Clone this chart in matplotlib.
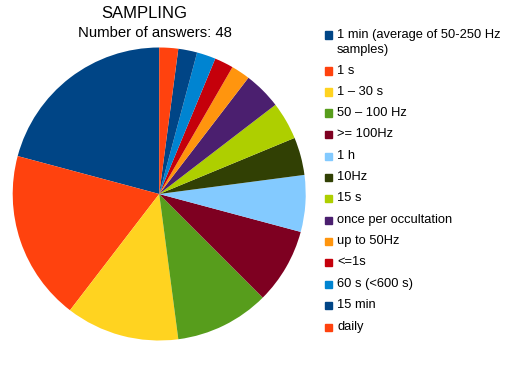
import matplotlib
matplotlib.use("Agg")
import matplotlib.pyplot as plt

labels = ["1 min (average of 50-250 Hz\nsamples)", "1 s", "1 – 30 s", "50 – 100 Hz",
          ">= 100Hz", "1 h", "10Hz", "15 s", "once per occultation", "up to 50Hz",
          "<=1s", "60 s (<600 s)", "15 min", "daily"]
values = [10, 9, 6, 5, 4, 3, 2, 2, 2, 1, 1, 1, 1, 1]
colors = ["#004586", "#ff420e", "#ffd320", "#579d1c", "#7e0021", "#83caff",
          "#314004", "#aecf00", "#4b1f6f", "#ff950e", "#c5000b", "#0084d1",
          "#004586", "#ff420e"]
title = "SAMPLING"
subtitle = "Number of answers: 48"

plt.rcParams['font.family'] = ['Liberation Sans', 'DejaVu Sans']
W, H = 530, 368
fig = plt.figure(figsize=(W / 100, H / 100), dpi=100)
cx, cy, r = 159.2, 194, 146.5
ax = fig.add_axes([(cx - r) / W, (H - cy - r) / H, 2 * r / W, 2 * r / H])
ax.pie(values, colors=colors, startangle=90, counterclock=True, radius=1,
       wedgeprops=dict(linewidth=0))
ax.set_xlim(-1, 1)
ax.set_ylim(-1, 1)
ax.set_aspect('auto')
ax.axis('off')

fig.text(144.5 / W, 1 - 14 / H, title, ha='center', va='center', fontsize=12, color='black')
fig.text(154.5 / W, 1 - 33 / H, subtitle, ha='center', va='center', fontsize=10.7, color='black')

# legend
ys = [35, 71, 92, 113, 134, 156, 177, 198, 220, 241, 262, 284, 305, 327]
for lab, col, y in zip(labels, colors, ys):
    fig.patches.append(plt.Rectangle(((328 - 3.5) / W, 1 - (y + 3.5) / H), 7 / W, 7 / H,
                                     transform=fig.transFigure, color=col, figure=fig))
    for k, line in enumerate(lab.split('\n')):
        fig.text(337 / W, 1 - (y + 15.5 * k) / H, line, ha='left', va='center',
                 fontsize=9.3, color='black')

fig.savefig("out.png", dpi=100, facecolor='white')
